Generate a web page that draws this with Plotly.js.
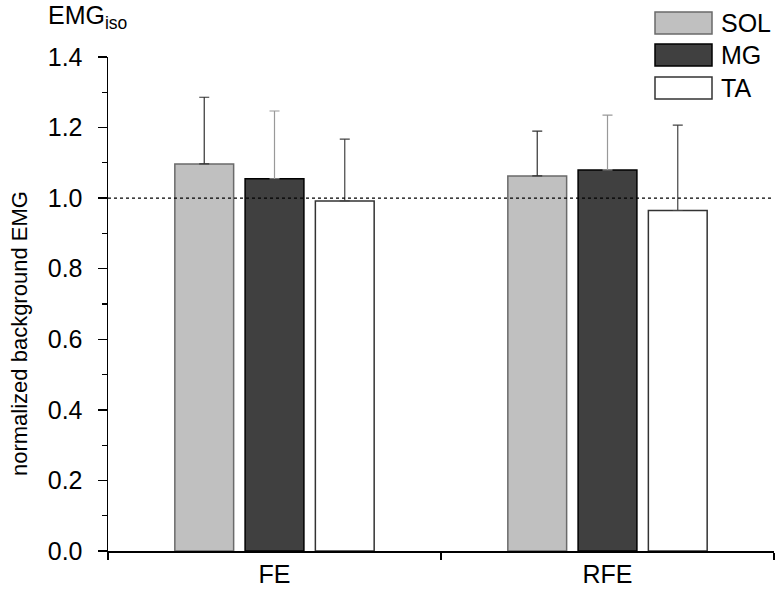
<!DOCTYPE html>
<html><head><meta charset="utf-8">
<script src="https://cdn.plot.ly/plotly-3.0.1.min.js"></script>
<style>body{margin:0;background:#fff}#c{width:781px;height:590px}</style>
</head><body><div id="c"></div>
<script>
var categories = ['FE', 'RFE'];
var seriesNames = ['SOL', 'MG', 'TA'];
var solValues = [1.097, 1.063];
var solErrors = [0.189, 0.127];
var mgValues = [1.055, 1.080];
var mgErrors = [0.192, 0.155];
var taValues = [0.992, 0.965];
var taErrors = [0.175, 0.242];
var yTickVals = [0, 0.2, 0.4, 0.6, 0.8, 1.0, 1.2, 1.4];

var fills = ['#c0c0c0', '#404040', '#ffffff'];
var outlines = ['#6a6a6a', '#000000', '#333333'];
var errColors = ['#333333', '#999999', '#444444'];
var vals = [solValues, mgValues, taValues];
var errs = [solErrors, mgErrors, taErrors];

function F(s){ return {family: 'Liberation Sans, Arial, sans-serif', size: s || 25, color: '#000'}; }

var traces = seriesNames.map(function(n, i){
  return {
    type: 'bar', name: n, x: categories, y: vals[i],
    marker: {color: fills[i], line: {color: outlines[i], width: 1.5}},
    error_y: {type: 'data', array: errs[i], symmetric: false, arrayminus: [0,0],
              color: errColors[i], thickness: 1.2, width: 5},
    showlegend: false
  };
});

var shapes = [{type: 'line', xref: 'paper', x0: 0, x1: 1, yref: 'y', y0: 1, y1: 1,
               line: {color: '#000', width: 1.3, dash: 'dot'}}];
var annotations = [
  {xref: 'paper', yref: 'paper', x: -0.133, y: 0.44, text: 'normalized background EMG',
   textangle: -90, showarrow: false, font: F(22), xanchor: 'center', yanchor: 'middle'},
  {xref: 'paper', yref: 'paper', x: -0.093, y: 1.08, text: 'EMG<sub>iso</sub>',
   showarrow: false, font: F(25), xanchor: 'left', yanchor: 'middle'}
];
var boxTop = [12, 44, 77];
seriesNames.forEach(function(n, i){
  var y0 = (551 - boxTop[i]) / 494, y1 = (551 - boxTop[i] - 22) / 494;
  shapes.push({type: 'rect', xref: 'paper', yref: 'paper', x0: (655-108)/666, x1: (712-108)/666,
               y0: y1, y1: y0, fillcolor: fills[i], line: {color: outlines[i], width: 1.5}});
  annotations.push({xref: 'paper', yref: 'paper', x: (719-108)/666, y: (y0 + y1) / 2,
               text: n, showarrow: false, font: F(25), xanchor: 'left', yanchor: 'middle'});
});

var layout = {
  width: 781, height: 590,
  margin: {l: 108, r: 7, t: 57, b: 39},
  paper_bgcolor: '#fff', plot_bgcolor: '#fff',
  barmode: 'group', bargap: 0.367, bargroupgap: 0.163,
  font: F(25),
  xaxis: {type: 'category', range: [-0.5, 1.5], tickson: 'boundaries', ticks: 'outside',
          ticklen: 7, tickwidth: 1.5, tickcolor: '#000', showline: true, linecolor: '#000',
          linewidth: 2, showgrid: false, zeroline: false, tickfont: F(25)},
  yaxis: {range: [0, 1.4], tickvals: yTickVals, tickformat: '.1f', ticks: 'outside',
          ticklen: 9, tickwidth: 1.5, tickcolor: '#000', showline: true, linecolor: '#000',
          linewidth: 1.5, showgrid: false, zeroline: false, tickfont: F(25), ticklabelstandoff: 10,
          minor: {tickvals: [0.1,0.3,0.5,0.7,0.9,1.1,1.3], ticks: 'outside', ticklen: 5, tickcolor: '#000', tickwidth: 1.2, showgrid: false}},
  shapes: shapes, annotations: annotations, showlegend: false
};
Plotly.newPlot('c', traces, layout, {staticPlot: true});
</script></body></html>
